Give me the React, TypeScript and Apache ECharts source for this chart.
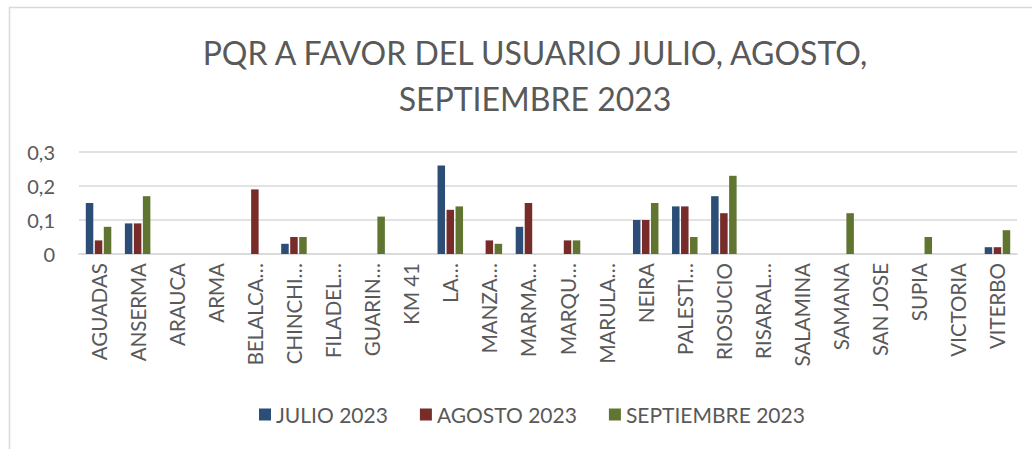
import React, { useEffect, useRef } from "react";
import * as echarts from "echarts";

const categories = [
  "AGUADAS", "ANSERMA", "ARAUCA", "ARMA", "BELALCA…", "CHINCHI…", "FILADEL…", "GUARIN…",
  "KM 41", "LA…", "MANZA…", "MARMA…", "MARQU…", "MARULA…", "NEIRA", "PALESTI…",
  "RIOSUCIO", "RISARAL…", "SALAMINA", "SAMANA", "SAN JOSE", "SUPIA", "VICTORIA", "VITERBO",
];
const julio = [0.15, 0.09, 0, 0, 0, 0.03, 0, 0, 0, 0.26, 0, 0.08, 0, 0, 0.1, 0.14, 0.17, 0, 0, 0, 0, 0, 0, 0.02];
const agosto = [0.04, 0.09, 0, 0, 0.19, 0.05, 0, 0, 0, 0.13, 0.04, 0.15, 0.04, 0, 0.1, 0.14, 0.12, 0, 0, 0, 0, 0, 0, 0.02];
const septiembre = [0.08, 0.17, 0, 0, 0, 0.05, 0, 0.11, 0, 0.14, 0.03, 0, 0.04, 0, 0.15, 0.05, 0.23, 0, 0, 0.12, 0, 0.05, 0, 0.07];
const seriesNames = ["JULIO 2023", "AGOSTO 2023", "SEPTIEMBRE 2023"];
const seriesColors = ["#2C4D75", "#772C2A", "#5F7530"];
const titleText = "PQR A FAVOR DEL USUARIO JULIO, AGOSTO,\nSEPTIEMBRE 2023";

const FONT = "Lato, 'Noto Sans', sans-serif";

export default function App() {
  const ref = useRef<HTMLDivElement>(null);
  useEffect(() => {
    document.body.style.margin = "0";
    const chart = echarts.init(ref.current!, null, { renderer: "svg" });
    const data = [julio, agosto, septiembre];
    chart.setOption({
      animation: false,
      backgroundColor: "#ffffff",
      textStyle: { fontFamily: FONT },
      title: {
        text: titleText,
        left: 530,
        top: 24,
        textAlign: "center",
        textStyle: {
          fontFamily: FONT,
          fontSize: 32,
          fontWeight: "normal",
          color: "#595959",
          lineHeight: 46,
        },
      },
      graphic: [
        {
          type: "rect",
          shape: { x: 9.5, y: 7.5, width: 1040, height: 470 },
          style: { fill: "none", stroke: "#d9d9d9", lineWidth: 1.5 },
          silent: true,
        },
      ],
      legend: {
        data: seriesNames,
        left: 254,
        top: 399,
        width: 700,
        icon: "rect",
        itemWidth: 12,
        itemHeight: 12,
        itemGap: 32,
        textStyle: { fontFamily: FONT, fontSize: 21, color: "#595959" },
      },
      grid: { left: 79, right: 15, top: 152, height: 102, containLabel: false },
      xAxis: {
        type: "category",
        data: categories,
        axisLine: { show: true, lineStyle: { color: "#d9d9d9", width: 1.5 } },
        axisTick: { show: false },
        axisLabel: {
          interval: 0,
          rotate: 90,
          margin: 9,
          fontFamily: FONT,
          fontSize: 20.5,
          color: "#595959",
        },
      },
      yAxis: {
        type: "value",
        min: 0,
        max: 0.3,
        interval: 0.1,
        axisLine: { show: false },
        axisTick: { show: false },
        splitLine: { lineStyle: { color: "#d9d9d9", width: 1.5 } },
        axisLabel: {
          margin: 24,
          fontFamily: FONT,
          fontSize: 20,
          color: "#595959",
          formatter: (v: number) => (Math.round(v * 10) / 10).toString().replace(".", ","),
        },
      },
      series: seriesNames.map((name, i) => ({
        name,
        type: "bar",
        data: data[i],
        barWidth: 7.5,
        barGap: "20%",
        itemStyle: {
          color: seriesColors[i],
          borderWidth: 0,
        },
      })),
    });
    return () => chart.dispose();
  }, []);
  return <div ref={ref} style={{ width: 1032, height: 449 }} />;
}
